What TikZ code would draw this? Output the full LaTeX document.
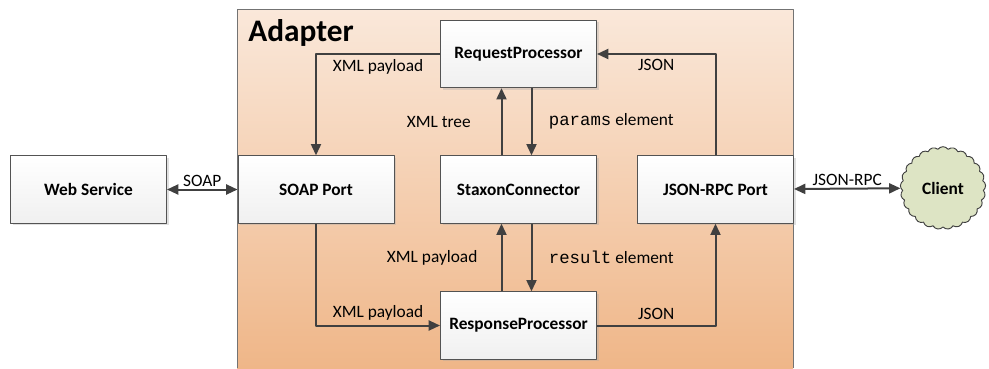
\documentclass[tikz,border=0pt]{standalone}
\usepackage{fontspec}
\setmainfont{Carlito}
\setmonofont{Liberation Mono}
\usetikzlibrary{arrows.meta,shapes.symbols,shadows}
\definecolor{linegray}{RGB}{64,64,64}
\definecolor{adtop}{RGB}{250,232,218}
\definecolor{adbot}{RGB}{239,182,136}
\definecolor{cloudgreen}{RGB}{221,228,196}
\begin{document}
\begin{tikzpicture}[x=0.75pt, y=-0.75pt, line join=round, font=\fontsize{13}{15}\selectfont, >={Triangle[length=8.5pt,width=7.5pt]},
  box/.style={draw=linegray!90, line width=0.7pt, top color=white, bottom color=black!6, minimum width=117pt, minimum height=50.5pt,
    font=\fontsize{13}{15}\selectfont\bfseries, drop shadow={shadow xshift=1.5pt, shadow yshift=-1.5pt, fill=black!35, opacity=.35}},
  link/.style={draw=linegray, line width=1.5pt}]
\useasboundingbox (0,0) rectangle (989,368);
% adapter frame, runs past the lower edge
\fill[top color=adtop, bottom color=adbot] (237,9) rectangle (793,368);
\draw[black!55, line width=.6pt] (237,368) -- (237,9) -- (793,9) -- (793,368);
\node[anchor=base west, inner sep=0pt, font=\fontsize{23.5}{26}\selectfont\bfseries] (title) at (248,41) {Adapter};
% components
\node[box] (ws) at (88.5,189.5) {Web Service};
\node[box] (soap) at (316,189.5) {SOAP Port};
\node[box] (stax) at (518.5,189.5) {StaxonConnector};
\node[box] (jrpc) at (715.5,189.5) {JSON-RPC Port};
\node[box] (req) at (518.5,54) {RequestProcessor};
\node[box] (resp) at (518.5,325.5) {ResponseProcessor};
\node[cloud, cloud puffs=25, cloud puff arc=110, cloud ignores aspect, draw=linegray, line width=0.7pt, fill=cloudgreen,
  minimum width=64pt, minimum height=62pt, font=\fontsize{13}{15}\selectfont\bfseries] (cl) at (943,188) {Client};
% outside links
\draw[link,<->] (ws) -- node[above, inner sep=1.5pt]{SOAP} (soap);
\draw[link,<->] (jrpc) -- node[above, inner sep=1.5pt]{JSON-RPC} (cl);
% request path
\draw[link,->] (req.west) -| node[pos=.25,below]{XML payload} (soap.north);
\draw[link,->] (jrpc.north) |- node[pos=.75,below]{JSON} (req.east);
\draw[link,->] ([xshift=-12.75pt]stax.north) -- node[left=19pt]{XML tree} ([xshift=-12.75pt]req.south);
\draw[link,->] ([xshift=9.75pt]req.south) -- node[right=9pt]{\texttt{params} element} ([xshift=9.75pt]stax.north);
% response path
\draw[link,->] ([xshift=-12.75pt]resp.north) -- node[left=14pt]{XML payload} ([xshift=-12.75pt]stax.south);
\draw[link,->] ([xshift=9.75pt]stax.south) -- node[right=9pt]{\texttt{result} element} ([xshift=9.75pt]resp.north);
\draw[link,->] (soap.south) |- node[pos=.75,above]{XML payload} (resp.west);
\draw[link,->] (resp.east) -| node[pos=.25,above]{JSON} (jrpc.south);
\end{tikzpicture}
\end{document}
